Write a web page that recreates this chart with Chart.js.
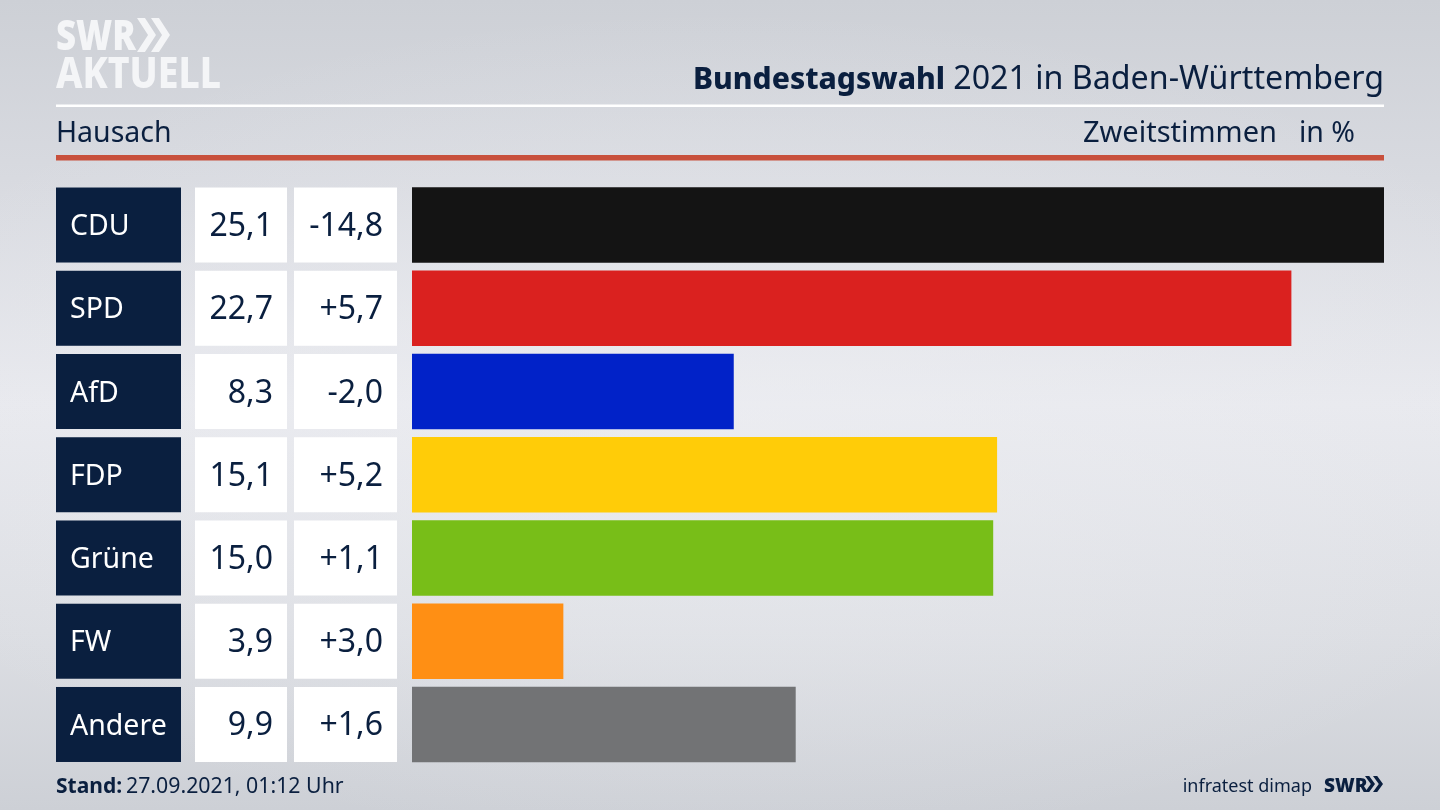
<!DOCTYPE html>
<html lang="de"><head><meta charset="utf-8"><title>Bundestagswahl 2021</title>
<script src="https://cdn.jsdelivr.net/npm/chart.js@4"></script>
<style>
html,body{margin:0;padding:0;width:1440px;height:810px;overflow:hidden}
body{background:radial-gradient(ellipse 900px 420px at 50% 53%,rgba(238,239,243,.55),rgba(238,239,243,0)),linear-gradient(180deg,#cdd0d6 0%,#d8dae0 22%,#e8e9ee 50%,#dcdee3 78%,#cdd0d6 100%)}
canvas{display:block}
</style></head><body>
<canvas id="c" width="1440" height="810"></canvas>
<script>
const parties=["CDU","SPD","AfD","FDP","Grüne","FW","Andere"];
const shares=[25.1,22.7,8.3,15.1,15.0,3.9,9.9];
const changes=[-14.8,5.7,-2.0,5.2,1.1,3.0,1.6];
const barColors=["#141414","#da211f","#0122c8","#ffcc08","#78be18","#ff8f14","#727375"];
const NAVY="#0a1f3f", FONT='"Noto Sans"';
const fmt=v=>v.toFixed(1).replace(".",",");
const fmtC=v=>(v>0?"+":"")+fmt(v);
function txt(ctx,s,x,y,font,color,align){ctx.font=font;ctx.fillStyle=color;ctx.textAlign=align||"left";ctx.textBaseline="alphabetic";ctx.fillText(s,x,y);}
function txtS(ctx,s,x,y,font,color,sx){ctx.save();ctx.translate(x,y);ctx.scale(sx,1);txt(ctx,s,0,0,font,color);ctx.restore();}
function chev(ctx,x,y,h,w,color){ctx.fillStyle=color;ctx.beginPath();ctx.moveTo(x,y);ctx.lineTo(x+w*.42,y);ctx.lineTo(x+w,y+h/2);ctx.lineTo(x+w*.42,y+h);ctx.lineTo(x,y+h);ctx.lineTo(x+w*.58,y+h/2);ctx.closePath();ctx.fill();}
const frame={id:"frame",beforeDraw(chart){
  const ctx=chart.ctx,y=chart.scales.y;ctx.save();
  ctx.fillStyle="#fff";ctx.fillRect(56,104.5,1328,2.5);
  ctx.fillStyle="#c8503c";ctx.fillRect(56,155,1328,5.5);
  parties.forEach((p,i)=>{const c=y.getPixelForValue(i),t=c-37.5;
    ctx.fillStyle=NAVY;ctx.fillRect(56,t,125,75);
    ctx.fillStyle="#fff";ctx.fillRect(195,t,92,75);ctx.fillRect(294,t,103,75);
    txt(ctx,fmt(shares[i]),273,c+11,`400 32px ${FONT}`,NAVY,"right");
    txt(ctx,fmtC(changes[i]),383,c+11,`400 32px ${FONT}`,NAVY,"right");
  });
  txtS(ctx,"SWR",56,50,`900 42px ${FONT}`,"#f4f5f7",0.83);
  chev(ctx,137,18,34,19,"#f4f5f7");chev(ctx,151,18,34,19,"#f4f5f7");
  txtS(ctx,"AKTUELL",56,88,`800 42px ${FONT}`,"#f4f5f7",0.89);
  txt(ctx,"2021 in Baden-Württemberg",1384,89,`400 32.2px ${FONT}`,NAVY,"right");
  txt(ctx,"Bundestagswahl",945,89,`800 30px ${FONT}`,NAVY,"right");
  txt(ctx,"Hausach",56,142,`400 28.5px ${FONT}`,NAVY);
  txt(ctx,"Zweitstimmen",1277,142,`400 29px ${FONT}`,NAVY,"right");
  txt(ctx,"in %",1355,142,`400 28.5px ${FONT}`,NAVY,"right");
  txt(ctx,"Stand:",56,793,`700 21px ${FONT}`,NAVY);
  txt(ctx,"27.09.2021, 01:12 Uhr",126,793,`400 21.3px ${FONT}`,NAVY);
  txt(ctx,"infratest dimap",1312,792,`400 18px ${FONT}`,NAVY,"right");
  txt(ctx,"SWR",1324,792,`900 19px ${FONT}`,NAVY);
  chev(ctx,1365,776,16,10,NAVY);chev(ctx,1373,776,16,10,NAVY);
  ctx.restore();
}};
new Chart(document.getElementById("c"),{type:"bar",
  data:{labels:parties,datasets:[{data:shares,backgroundColor:barColors,borderWidth:0,barThickness:75}]},
  options:{indexAxis:"y",responsive:false,animation:false,devicePixelRatio:1,
    layout:{padding:{left:70,right:56,top:183.4,bottom:43.9}},
    plugins:{legend:{display:false},tooltip:{enabled:false},title:{display:false}},
    scales:{
      x:{display:false,min:0,max:25.1},
      y:{position:"left",grid:{display:false},border:{display:false},
         afterFit(s){s.width=342;},
         ticks:{crossAlign:"far",color:"#ffffff",padding:0,labelOffset:2,font:{family:"Noto Sans",size:28.5}}}
    }},
  plugins:[frame]});
</script></body></html>
